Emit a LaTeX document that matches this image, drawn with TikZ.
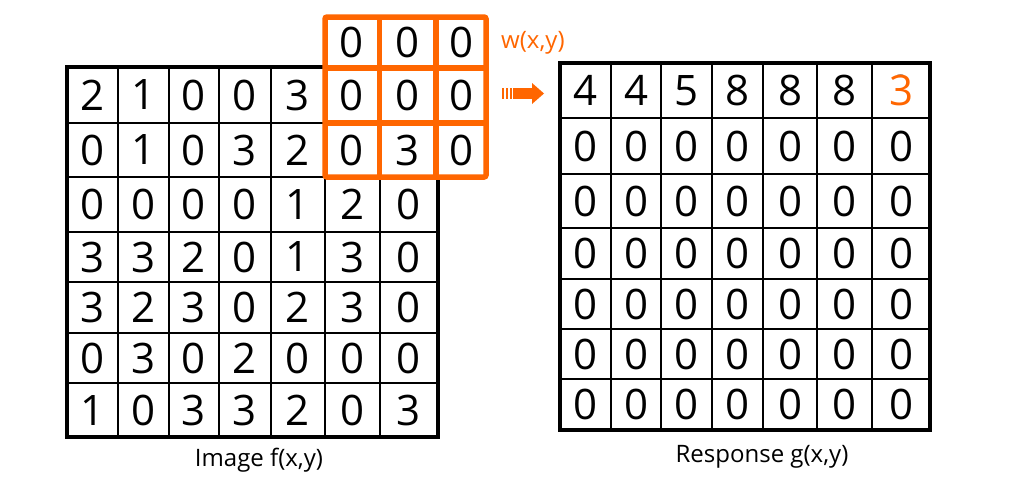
\documentclass[tikz,border=0pt]{standalone}
\usepackage{fontspec}
\setmainfont{Open Sans}
\definecolor{korange}{RGB}{255,102,0}
\begin{document}
\begin{tikzpicture}[x=1pt,y=-1pt,
  digit/.style={font=\fontsize{42}{44}\selectfont, inner sep=0pt},
  thingrid/.style={line width=1.4pt},
  frame/.style={line width=3.5pt},
  kline/.style={korange, line width=5.5pt},
  lab/.style={font=\fontsize{24}{26}\selectfont, inner sep=0pt}]
\useasboundingbox[fill=white] (0,0) rectangle (1024,485);

% ---------- Image f(x,y) ----------
\foreach \x in {118,169,219,271,325,380} \draw[thingrid] (\x,67) -- (\x,437);
\foreach \y in {123,177,232,282,333,383} \draw[thingrid] (67,\y) -- (438,\y);
\draw[frame] (67,67) rectangle (438,437);

\foreach \row [count=\r] in {{2,1,0,0,3},{0,1,0,3,2},{0,0,0,0,1,2,0},{3,3,2,0,1,3,0},{3,2,3,0,2,3,0},{0,3,0,2,0,0,0},{1,0,3,3,2,0,3}} {
  \foreach \v [count=\c] in \row {
    \pgfmathsetmacro\cx{{92.5,143.5,194,245,298,352.5,409}[\c-1]}
    \pgfmathsetmacro\cy{{95,150,204.5,257,307.5,358,410}[\r-1]}
    \node[digit] (L-\r-\c) at (\cx,\cy) {\v};
  }
}

% ---------- kernel w(x,y) ----------
\fill[white] (325,17) rectangle (486,177);
\foreach \x in {379.5,436} \draw[kline] (\x,17) -- (\x,177);
\foreach \y in {68,123} \draw[kline] (325,\y) -- (486,\y);
\draw[kline, rounded corners=2pt] (325,17) rectangle (486,177);
\foreach \row [count=\r] in {{0,0,0},{0,0,0},{0,3,0}} {
  \foreach \v [count=\c] in \row {
    \pgfmathsetmacro\cx{{352,408,461}[\c-1]}
    \pgfmathsetmacro\cy{{42.5,95.5,150}[\r-1]}
    \node[digit] (K-\r-\c) at (\cx,\cy) {\v};
  }
}
\node[lab, korange, anchor=west] (wlab) at (501,43) {w(x,y)};

% ---------- arrow ----------
\fill[korange] (502,88) rectangle (504.2,99);
\fill[korange] (505.8,88) rectangle (508,99);
\fill[korange] (509.5,88) rectangle (511.7,99);
\fill[korange] (513,88) rectangle (532.5,99);
\fill[korange] (532,83) -- (544,93.5) -- (532,104) -- cycle;

% ---------- Response g(x,y) ----------
\foreach \x in {611,661,712,763,817,872} \draw[thingrid] (\x,63) -- (\x,430);
\foreach \y in {118,174,228,279,329,379} \draw[thingrid] (560,\y) -- (930,\y);
\draw[frame] (560,63) rectangle (930,430);

\foreach \row [count=\r] in {{4,4,5,8,8,8,3},{0,0,0,0,0,0,0},{0,0,0,0,0,0,0},{0,0,0,0,0,0,0},{0,0,0,0,0,0,0},{0,0,0,0,0,0,0},{0,0,0,0,0,0,0}} {
  \foreach \v [count=\c] in \row {
    \pgfmathsetmacro\cx{{585.5,636,686.5,737.5,790,844.5,901}[\c-1]}
    \pgfmathsetmacro\cy{{90.5,146,201,253.5,304,354,404.5}[\r-1]}
    \node[digit] (R-\r-\c) at (\cx,\cy) {\v};
  }
}
\node[digit, korange, fill=white] (R-1-7o) at (901,90.5) {3};

% ---------- captions ----------
\node[lab, anchor=base] (ilab) at (259,466) {Image f(x,y)};
\node[lab, anchor=base] (rlab) at (762,462) {Response g(x,y)};
\end{tikzpicture}
\end{document}
